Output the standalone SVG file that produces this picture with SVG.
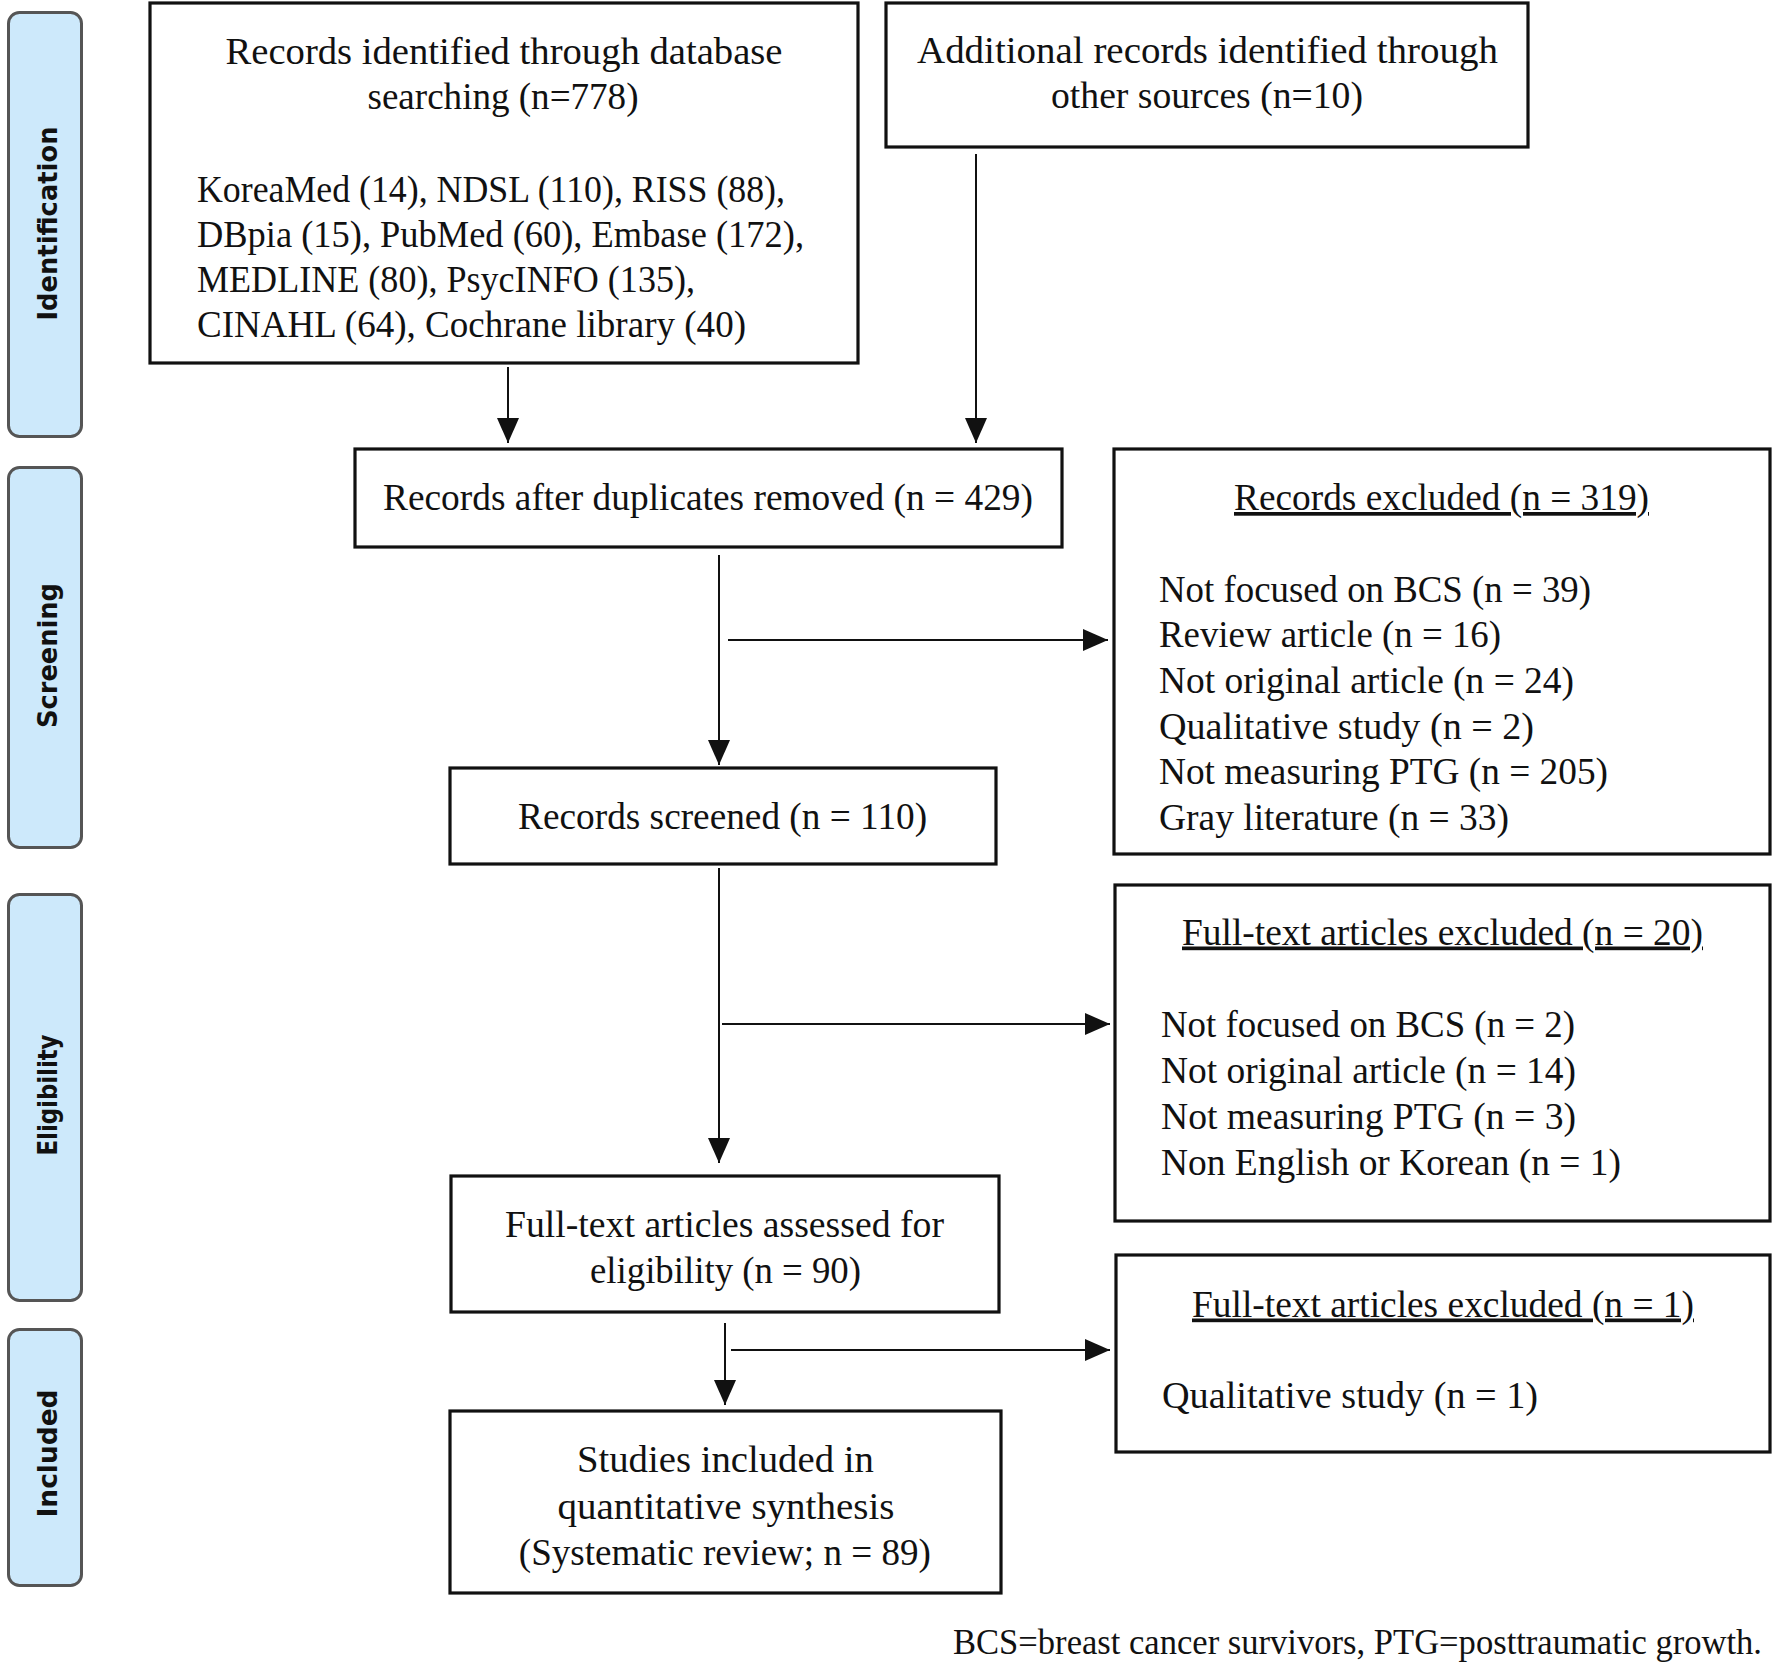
<svg xmlns="http://www.w3.org/2000/svg" width="1773" height="1663" viewBox="0 0 1773 1663">
<style>
.box{fill:#fff;stroke:#111;stroke-width:3.2}
.tab{fill:#cde9fb;stroke:#555;stroke-width:3}
.t{font-family:"Liberation Serif","Times New Roman",serif;font-size:37px;fill:#111}
.c{text-anchor:middle}
.u{text-decoration:underline}
.lab{font-family:"DejaVu Sans",Verdana,sans-serif;font-weight:bold;font-size:26px;fill:#111;text-anchor:middle}
.ln{stroke:#111;stroke-width:2;fill:none}
</style>
<defs>
<marker id="ah" viewBox="0 0 25 22" markerUnits="userSpaceOnUse" markerWidth="25" markerHeight="22" refX="25" refY="11" orient="auto">
<path d="M0,0 L25,11 L0,22 z" fill="#111"/>
</marker>
</defs>
<rect width="1773" height="1663" fill="#fff"/>
<g id="tab-identification"><rect class="tab" x="8.5" y="12.5" width="73" height="424" rx="11"/><text class="lab" transform="translate(57,223.5) rotate(-90)" textLength="194" lengthAdjust="spacingAndGlyphs">Identification</text></g>
<g id="tab-screening"><rect class="tab" x="8.5" y="467.5" width="73" height="380" rx="11"/><text class="lab" transform="translate(57,655.5) rotate(-90)" textLength="145" lengthAdjust="spacingAndGlyphs">Screening</text></g>
<g id="tab-eligibility"><rect class="tab" x="8.5" y="894.5" width="73" height="406" rx="11"/><text class="lab" transform="translate(57,1095) rotate(-90)" textLength="121" lengthAdjust="spacingAndGlyphs">Eligibility</text></g>
<g id="tab-included"><rect class="tab" x="8.5" y="1329.5" width="73" height="256" rx="11"/><text class="lab" transform="translate(57,1453.5) rotate(-90)" textLength="128" lengthAdjust="spacingAndGlyphs">Included</text></g>

<g id="connectors">
<path class="ln" d="M508,367 V443" marker-end="url(#ah)"/>
<path class="ln" d="M976,154 V443" marker-end="url(#ah)"/>
<path class="ln" d="M719,555 V765" marker-end="url(#ah)"/>
<path class="ln" d="M728,640 H1108" marker-end="url(#ah)"/>
<path class="ln" d="M719,868 V1163" marker-end="url(#ah)"/>
<path class="ln" d="M722,1024 H1110" marker-end="url(#ah)"/>
<path class="ln" d="M725,1323 V1405" marker-end="url(#ah)"/>
<path class="ln" d="M731,1350 H1110" marker-end="url(#ah)"/>
</g>

<g id="db-search">
<rect class="box" x="150" y="3" width="708" height="360"/>
<text class="t c" x="504" y="64" textLength="557" lengthAdjust="spacingAndGlyphs">Records identified through database</text>
<text class="t c" x="503" y="109" textLength="271" lengthAdjust="spacingAndGlyphs">searching (n=778)</text>
<text class="t" x="197" y="202" textLength="588" lengthAdjust="spacingAndGlyphs">KoreaMed (14), NDSL (110), RISS (88),</text>
<text class="t" x="197" y="247" textLength="607" lengthAdjust="spacingAndGlyphs">DBpia (15), PubMed (60), Embase (172),</text>
<text class="t" x="197" y="292" textLength="498" lengthAdjust="spacingAndGlyphs">MEDLINE (80), PsycINFO (135),</text>
<text class="t" x="197" y="337" textLength="549" lengthAdjust="spacingAndGlyphs">CINAHL (64), Cochrane library (40)</text>
</g>

<g id="other-sources">
<rect class="box" x="886" y="3" width="642" height="144"/>
<text class="t c" x="1207.5" y="63" textLength="581" lengthAdjust="spacingAndGlyphs">Additional records identified through</text>
<text class="t c" x="1207" y="108" textLength="312" lengthAdjust="spacingAndGlyphs">other sources (n=10)</text>
</g>

<g id="duplicates-removed">
<rect class="box" x="355" y="449" width="707" height="98"/>
<text class="t c" x="708" y="510" textLength="650" lengthAdjust="spacingAndGlyphs">Records after duplicates removed (n = 429)</text>
</g>

<g id="records-excluded">
<rect class="box" x="1114" y="449" width="656" height="405"/>
<text class="t c u" x="1441.5" y="510" textLength="415" lengthAdjust="spacingAndGlyphs">Records excluded (n = 319)</text>
<text class="t" x="1159" y="601.5" textLength="432" lengthAdjust="spacingAndGlyphs">Not focused on BCS (n = 39)</text>
<text class="t" x="1159" y="647.2" textLength="342" lengthAdjust="spacingAndGlyphs">Review article (n = 16)</text>
<text class="t" x="1159" y="692.9" textLength="415" lengthAdjust="spacingAndGlyphs">Not original article (n = 24)</text>
<text class="t" x="1159" y="738.5" textLength="375" lengthAdjust="spacingAndGlyphs">Qualitative study (n = 2)</text>
<text class="t" x="1159" y="784.2" textLength="449" lengthAdjust="spacingAndGlyphs">Not measuring PTG (n = 205)</text>
<text class="t" x="1159" y="829.9" textLength="350" lengthAdjust="spacingAndGlyphs">Gray literature (n = 33)</text>
</g>

<g id="records-screened">
<rect class="box" x="450" y="768" width="546" height="96"/>
<text class="t c" x="722.6" y="828.5" textLength="409" lengthAdjust="spacingAndGlyphs">Records screened (n = 110)</text>
</g>

<g id="fulltext-excluded-20">
<rect class="box" x="1115" y="885" width="655" height="336"/>
<text class="t c u" x="1442.5" y="944.5" textLength="521" lengthAdjust="spacingAndGlyphs">Full-text articles excluded (n = 20)</text>
<text class="t" x="1161" y="1036.5" textLength="414" lengthAdjust="spacingAndGlyphs">Not focused on BCS (n = 2)</text>
<text class="t" x="1161" y="1082.5" textLength="415" lengthAdjust="spacingAndGlyphs">Not original article (n = 14)</text>
<text class="t" x="1161" y="1128.5" textLength="415" lengthAdjust="spacingAndGlyphs">Not measuring PTG (n = 3)</text>
<text class="t" x="1161" y="1174.5" textLength="460" lengthAdjust="spacingAndGlyphs">Non English or Korean (n = 1)</text>
</g>

<g id="fulltext-assessed">
<rect class="box" x="451" y="1176" width="548" height="136"/>
<text class="t c" x="724.5" y="1236.5" textLength="439" lengthAdjust="spacingAndGlyphs">Full-text articles assessed for</text>
<text class="t c" x="725.5" y="1283" textLength="271" lengthAdjust="spacingAndGlyphs">eligibility (n = 90)</text>
</g>

<g id="fulltext-excluded-1">
<rect class="box" x="1116" y="1255" width="654" height="197"/>
<text class="t c u" x="1443" y="1316.5" textLength="502" lengthAdjust="spacingAndGlyphs">Full-text articles excluded (n = 1)</text>
<text class="t" x="1162" y="1408" textLength="376" lengthAdjust="spacingAndGlyphs">Qualitative study (n = 1)</text>
</g>

<g id="studies-included">
<rect class="box" x="450" y="1411" width="551" height="182"/>
<text class="t c" x="725.4" y="1471.5" textLength="297" lengthAdjust="spacingAndGlyphs">Studies included in</text>
<text class="t c" x="726" y="1518.5" textLength="337" lengthAdjust="spacingAndGlyphs">quantitative synthesis</text>
<text class="t c" x="724.8" y="1564.5" textLength="412" lengthAdjust="spacingAndGlyphs">(Systematic review; n = 89)</text>
</g>

<g id="footnote">
<text class="t" x="1762" y="1654" text-anchor="end" style="font-size:35px" textLength="809" lengthAdjust="spacingAndGlyphs">BCS=breast cancer survivors, PTG=posttraumatic growth.</text>
</g>
</svg>
